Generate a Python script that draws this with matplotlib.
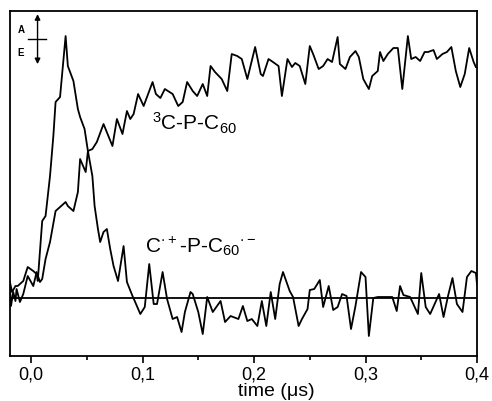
import matplotlib
matplotlib.use('Agg')
import matplotlib.pyplot as plt
from matplotlib.ticker import MultipleLocator, FuncFormatter
import numpy as np

plt.rcParams['font.family'] = ['Liberation Sans', 'DejaVu Sans']
plt.rcParams['mathtext.default'] = 'regular'

# triplet 3C-P-C60 transient (time in us, signal in arb. units)
t_triplet = [-0.019, -0.018, -0.016, -0.014, -0.013, -0.010, -0.007, -0.003, 0.002, 0.005,
             0.008, 0.010, 0.013, 0.017, 0.022, 0.026, 0.031, 0.033, 0.038, 0.042,
             0.044, 0.049, 0.051, 0.055, 0.059, 0.065, 0.073, 0.077, 0.082, 0.086,
             0.089, 0.092, 0.096, 0.101, 0.109, 0.112, 0.116, 0.120, 0.127, 0.132,
             0.136, 0.140, 0.145, 0.149, 0.154, 0.158, 0.161, 0.165, 0.171, 0.176,
             0.180, 0.185, 0.189, 0.194, 0.201, 0.206, 0.208, 0.213, 0.217, 0.222,
             0.225, 0.230, 0.234, 0.237, 0.241, 0.246, 0.250, 0.253, 0.258, 0.262,
             0.266, 0.270, 0.275, 0.277, 0.282, 0.286, 0.291, 0.294, 0.298, 0.303,
             0.306, 0.311, 0.313, 0.316, 0.320, 0.325, 0.329, 0.333, 0.338, 0.341,
             0.345, 0.349, 0.353, 0.356, 0.361, 0.364, 0.369, 0.373, 0.377, 0.381,
             0.385, 0.389, 0.393, 0.397, 0.399]
v_triplet = [12, -8, 6, -3, 9, -4, 4, 22, 12, 26,
             16, 19, 39, 56, 87, 91, 96, 92, 87, 106,
             139, 126, 147, 149, 156, 174, 152, 179, 164, 187,
             179, 184, 204, 192, 216, 204, 200, 209, 204, 192,
             196, 216, 207, 202, 214, 202, 232, 226, 219, 207,
             244, 242, 239, 219, 251, 224, 222, 239, 236, 232,
             202, 239, 231, 235, 232, 214, 252, 244, 229, 232,
             239, 236, 261, 234, 229, 241, 247, 241, 219, 209,
             222, 227, 246, 237, 244, 250, 250, 209, 262, 239,
             241, 237, 246, 246, 248, 239, 244, 246, 251, 227,
             211, 224, 250, 236, 231]

# radical pair C.+-P-C60.- transient
t_radical = [-0.019, -0.017, -0.014, -0.012, -0.007, -0.003, 0.002, 0.005, 0.006, 0.010,
             0.013, 0.017, 0.020, 0.022, 0.026, 0.031, 0.033, 0.038, 0.042, 0.044,
             0.048, 0.051, 0.055, 0.057, 0.060, 0.062, 0.065, 0.068, 0.071, 0.074,
             0.078, 0.083, 0.086, 0.091, 0.093, 0.098, 0.102, 0.106, 0.110, 0.113,
             0.118, 0.122, 0.127, 0.131, 0.135, 0.138, 0.143, 0.145, 0.150, 0.154,
             0.158, 0.163, 0.170, 0.174, 0.179, 0.186, 0.190, 0.194, 0.198, 0.203,
             0.207, 0.211, 0.215, 0.219, 0.223, 0.226, 0.232, 0.235, 0.240, 0.243,
             0.248, 0.250, 0.254, 0.259, 0.262, 0.267, 0.271, 0.275, 0.279, 0.283,
             0.287, 0.291, 0.296, 0.300, 0.303, 0.307, 0.311, 0.324, 0.328, 0.331,
             0.334, 0.340, 0.347, 0.350, 0.354, 0.358, 0.362, 0.366, 0.370, 0.374,
             0.378, 0.382, 0.387, 0.391, 0.395, 0.399, 0.400]
v_radical = [16, 6, 12, 12, 17, 31, 27, 24, 17, 77,
             82, 122, 162, 196, 201, 262, 232, 217, 189, 181,
             169, 147, 122, 92, 69, 56, 66, 69, 49, 32,
             17, 52, 16, 2, -3, -16, -9, 34, -6, -6,
             26, -1, -21, -19, -34, -14, 6, 4, -14, -36,
             1, -14, -3, -24, -18, -21, -8, -23, -21, -28,
             -3, -28, 6, -21, 14, 26, 7, 1, -28, -21,
             -11, 8, 9, 18, -9, 12, -12, -9, 4, 2,
             -31, -8, 26, 21, -38, 0, 1, 1, -13, 12,
             3, 1, -16, 25, -9, -16, -6, 4, -19, 2,
             20, -6, -14, 21, 27, 25, 14]

xticks = [0.0, 0.1, 0.2, 0.3, 0.4]

fig = plt.figure(figsize=(4.92, 4.02), dpi=100)
ax = fig.add_axes([0.0203, 0.1119, 0.9492, 0.8582])

ax.plot(t_triplet, v_triplet, color='black', lw=1.3)
ax.plot(t_radical, v_radical, color='black', lw=1.3)
ax.axhline(0, color='black', lw=1.3)

ax.set_xlim(-0.0189, 0.4)
ax.set_ylim(-58, 287)

for s in ax.spines.values():
    s.set_linewidth(1.3)

ax.set_yticks([])
ax.set_xticks(xticks)
ax.xaxis.set_minor_locator(MultipleLocator(0.05))
ax.xaxis.set_major_formatter(FuncFormatter(lambda x, p: f"{x:.1f}".replace('.', ',')))
ax.tick_params(axis='x', which='major', direction='out', length=5, width=1.2,
               labelsize=13, pad=2)
ax.tick_params(axis='x', which='minor', direction='out', length=3, width=1.2)

ax.set_xlabel('time (μs)', fontsize=14, labelpad=0)
ax.xaxis.set_label_coords(0.57, -0.075)

ax.text(0.305, 0.676, r'$^{3}$C-P-C$_{60}$', transform=ax.transAxes,
        fontsize=15, ha='left', va='center')
ax.text(0.29, 0.32, r'C$^{\cdot+}$-P-C$_{60}{}^{\cdot -}$', transform=ax.transAxes,
        fontsize=15, ha='left', va='center')

# absorption / emission arrow
ax.annotate('', xy=(0.059, 0.991), xytext=(0.059, 0.846), xycoords='axes fraction',
            arrowprops=dict(arrowstyle='<|-|>', color='black', lw=1.0,
                            mutation_scale=8, shrinkA=0, shrinkB=0))
ax.plot([0.039, 0.077], [0.919, 0.919], color='black', lw=1.0, transform=ax.transAxes)
ax.text(0.024, 0.948, 'A', transform=ax.transAxes, fontsize=7, fontweight='bold',
        ha='center', va='center')
ax.text(0.023, 0.88, 'E', transform=ax.transAxes, fontsize=7, fontweight='bold',
        ha='center', va='center')

assert len(t_triplet) == len(v_triplet)
assert len(t_radical) == len(v_radical)

plt.savefig('out.png', dpi=100)
